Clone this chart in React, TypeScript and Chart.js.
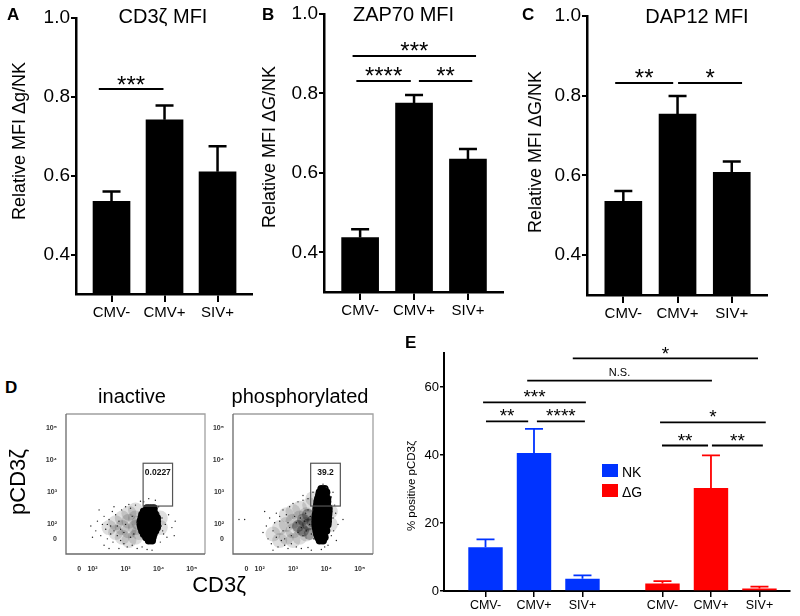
import React, { useEffect, useRef } from 'react';
import { Chart, registerables } from 'chart.js';

Chart.register(...registerables);

const FONT = '"Liberation Sans", Arial, Helvetica, sans-serif';
Chart.defaults.font.family = FONT;
Chart.defaults.color = '#000';

// ---------------- data: panels A-C ----------------
const mfiCategories = ['CMV-', 'CMV+', 'SIV+'];
const mfiYTicks = [0.4, 0.6, 0.8, 1.0];

const cd3zMean = [0.535, 0.742, 0.61];
const cd3zSem = [0.025, 0.036, 0.065];
const zap70Mean = [0.437, 0.776, 0.635];
const zap70Sem = [0.021, 0.02, 0.025];
const dap12Mean = [0.535, 0.754, 0.608];
const dap12Sem = [0.026, 0.045, 0.027];

const cd3zSig = [{ from: 0.76, to: 1.98, y: 0.82, label: '***' }];
const zap70Sig = [
  { from: 0.86, to: 3.15, y: 0.894, label: '***' },
  { from: 0.93, to: 1.94, y: 0.831, label: '****' },
  { from: 2.09, to: 3.08, y: 0.831, label: '**' },
];
const dap12Sig = [
  { from: 0.85, to: 1.92, y: 0.832, label: '**' },
  { from: 2.01, to: 3.19, y: 0.832, label: '*' },
];

// ---------------- data: panel E ----------------
const eCategories = ['CMV-', 'CMV+', 'SIV+'];
const eGroups = ['NK', 'ΔG'];
const nkMean = [12.9, 40.6, 3.6];
const nkSem = [2.3, 7.1, 1.0];
const dgMean = [2.2, 30.3, 0.7];
const dgSem = [0.7, 9.6, 0.6];
const eYTicks = [0, 20, 40, 60];
const eSig = [
  { from: 2.8, to: 6.62, y: 68.4, label: '*' },
  { from: 1.86, to: 5.67, y: 61.9, label: 'N.S.' },
  { from: 0.95, to: 3.07, y: 55.5, label: '***' },
  { from: 1.01, to: 1.88, y: 49.9, label: '**' },
  { from: 2.06, to: 3.05, y: 49.9, label: '****' },
  { from: 4.6, to: 6.78, y: 49.6, label: '*' },
  { from: 4.64, to: 5.59, y: 42.8, label: '**' },
  { from: 5.67, to: 6.72, y: 42.8, label: '**' },
];

// ---------------- data: panel D (flow plots, log decades) ----------------
const flowXTicks = [1.6, 2, 3, 4, 5];
const flowYTicks = [1.55, 2, 3, 4, 5];
const flowTickLabels = ['0', '10²', '10³', '10⁴', '10⁵'];
const gateX = [3.53, 4.42];
const gateY = [2.57, 3.9];
const gateLabels = ['0.0227', '39.2'];

const inactiveCore = [
  [3.65, 2.5], [3.75, 2.5], [3.85, 2.5],
  [3.55, 2.4], [3.65, 2.4], [3.75, 2.4], [3.85, 2.4],
  [3.5, 2.3], [3.6, 2.3], [3.7, 2.3], [3.8, 2.3], [3.9, 2.3],
  [3.48, 2.2], [3.58, 2.2], [3.68, 2.2], [3.78, 2.2], [3.88, 2.2], [3.95, 2.2],
  [3.45, 2.1], [3.55, 2.1], [3.65, 2.1], [3.75, 2.1], [3.85, 2.1], [3.95, 2.1],
  [3.45, 2.0], [3.55, 2.0], [3.65, 2.0], [3.75, 2.0], [3.85, 2.0], [3.95, 2.0],
  [3.47, 1.9], [3.57, 1.9], [3.67, 1.9], [3.77, 1.9], [3.87, 1.9], [3.95, 1.9],
  [3.5, 1.8], [3.6, 1.8], [3.7, 1.8], [3.8, 1.8], [3.9, 1.8],
  [3.55, 1.7], [3.65, 1.7], [3.75, 1.7], [3.85, 1.7],
  [3.62, 1.6], [3.72, 1.6], [3.82, 1.6],
  [3.7, 1.5], [3.8, 1.5],
];
const inactiveShoulder = [
  [2.5, 1.9], [2.7, 1.75], [2.7, 2.05], [2.9, 1.6], [2.9, 1.9], [2.9, 2.2],
  [3.1, 1.5], [3.1, 1.8], [3.1, 2.1], [3.1, 2.35], [3.3, 1.6], [3.3, 1.9],
  [3.3, 2.2], [3.3, 2.45], [3.4, 1.75], [3.4, 2.05], [4.05, 1.9], [4.05, 2.2],
];
const inactiveSparse = [
  [1.95, 1.95], [2.1, 1.8], [2.15, 2.1], [2.25, 1.65], [2.3, 2.0], [2.35, 2.25], [2.4, 1.85],
  [2.45, 1.55], [2.5, 2.15], [2.55, 1.7], [2.6, 2.4], [2.62, 1.45], [2.7, 2.3], [2.75, 1.95],
  [2.85, 1.5], [2.88, 2.45], [2.95, 1.4], [3.0, 2.55], [3.05, 1.3], [3.15, 2.5], [3.2, 1.35],
  [3.3, 2.6], [3.35, 1.25], [3.5, 1.3], [3.55, 2.7], [3.65, 1.22], [3.8, 1.2], [3.9, 2.75],
  [4.0, 2.55], [4.05, 1.45], [4.1, 2.2], [4.12, 1.8], [4.2, 2.0], [4.25, 1.6], [4.3, 2.3],
  [4.4, 1.9], [4.47, 1.65], [4.5, 2.1], [2.2, 2.45], [2.0, 1.6], [2.35, 1.35], [2.8, 1.25],
  [3.45, 2.72], [4.0, 2.35], [4.08, 1.95], [4.15, 1.7], [3.7, 2.8], [2.5, 1.25], [3.1, 2.62], [2.65, 2.55],
  [2.55, 1.95], [2.65, 1.8], [2.8, 2.1], [2.95, 1.75], [3.0, 2.0], [3.2, 2.25], [3.25, 1.7],
  [2.85, 1.85], [3.15, 1.6], [2.45, 2.0], [3.35, 2.05], [2.75, 1.65],
];

const phosCore = [
  [3.85, 3.1], [3.95, 3.1],
  [3.8, 3.0], [3.9, 3.0], [4.0, 3.0],
  [3.78, 2.9], [3.88, 2.9], [3.98, 2.9],
  [3.75, 2.8], [3.85, 2.8], [3.95, 2.8], [4.03, 2.8],
  [3.73, 2.7], [3.83, 2.7], [3.93, 2.7], [4.03, 2.7],
  [3.72, 2.6], [3.82, 2.6], [3.92, 2.6], [4.02, 2.6],
  [3.7, 2.5], [3.8, 2.5], [3.9, 2.5], [4.0, 2.5], [4.07, 2.5],
  [3.7, 2.4], [3.8, 2.4], [3.9, 2.4], [4.0, 2.4], [4.07, 2.4],
  [3.68, 2.3], [3.78, 2.3], [3.88, 2.3], [3.98, 2.3], [4.06, 2.3],
  [3.67, 2.2], [3.77, 2.2], [3.87, 2.2], [3.97, 2.2], [4.05, 2.2],
  [3.67, 2.1], [3.77, 2.1], [3.87, 2.1], [3.97, 2.1], [4.05, 2.1],
  [3.67, 2.0], [3.77, 2.0], [3.87, 2.0], [3.97, 2.0], [4.04, 2.0],
  [3.68, 1.9], [3.78, 1.9], [3.88, 1.9], [3.98, 1.9],
  [3.7, 1.8], [3.8, 1.8], [3.9, 1.8], [4.0, 1.8],
  [3.72, 1.7], [3.82, 1.7], [3.92, 1.7],
  [3.75, 1.6], [3.85, 1.6], [3.95, 1.6],
  [3.8, 1.5], [3.9, 1.5],
];
const phosBlob = [
  [3.15, 1.95], [3.3, 2.15], [3.3, 1.8], [3.45, 2.0], [3.45, 2.3], [3.5, 1.7], [3.58, 2.1],
];
const phosShoulder = [
  [2.4, 1.7], [2.6, 1.5], [2.6, 1.9], [2.8, 1.6], [2.8, 2.0], [2.8, 2.3], [3.0, 1.5],
  [3.0, 1.8], [3.0, 2.1], [3.0, 2.4], [3.2, 1.6], [3.2, 1.9], [3.2, 2.2], [3.2, 2.5],
  [3.4, 1.7], [3.4, 2.0], [3.4, 2.3], [3.5, 2.6], [3.6, 2.8], [4.12, 2.4], [4.12, 2.0],
];
const phosSparse = [
  [2.1, 1.75], [2.2, 1.95], [2.25, 1.55], [2.3, 2.2], [2.35, 1.4], [2.4, 1.8], [2.45, 2.05],
  [2.5, 1.6], [2.5, 2.35], [2.55, 1.3], [2.6, 2.1], [2.65, 1.5], [2.7, 2.45], [2.75, 1.35],
  [2.8, 2.3], [2.85, 1.25], [2.9, 2.55], [2.95, 1.4], [3.0, 2.65], [3.1, 1.3], [3.15, 2.7],
  [3.25, 1.25], [3.3, 2.75], [3.45, 1.28], [3.45, 2.8], [3.55, 1.2], [4.2, 2.2], [4.22, 1.8],
  [4.25, 2.6], [4.3, 1.5], [4.2, 3.0], [4.35, 2.0], [4.5, 2.15], [1.38, 2.15], [1.55, 2.15],
  [3.3, 2.9], [3.9, 3.25], [4.0, 3.15], [2.4, 1.2], [4.05, 1.35], [3.85, 1.22], [2.15, 2.4],
  [4.28, 2.35], [3.6, 3.0], [2.7, 1.8], [2.85, 2.05], [2.95, 1.65], [2.6, 2.25], [2.9, 1.9],
  [3.05, 2.25], [2.75, 1.55], [4.15, 2.85], [4.15, 1.65], [3.95, 1.3],
  [3.1, 2.05], [3.22, 2.2], [3.25, 1.9], [3.35, 2.1], [3.38, 2.35], [3.4, 1.8], [3.5, 2.0],
  [3.52, 2.25], [3.55, 1.7], [3.6, 2.45], [3.15, 1.75], [3.62, 1.55], [3.3, 1.65], [3.45, 2.45],
];

// ---------------- layout / style ----------------
const BLUE = '#0033ff';
const RED = '#ff0000';
const GROUP_OFFSET = 3.65;

type Rect = { left: number; top: number; width: number; height: number };
type Area = { left: number; top: number; right: number; bottom: number };

function fit(rect: Rect, area: Area) {
  return {
    padding: { left: 0, top: area.top - rect.top, right: rect.left + rect.width - area.right, bottom: 0 },
    yWidth: area.left - rect.left,
    xHeight: rect.top + rect.height - area.bottom,
  };
}

function errorBars(capWidth: number, lineWidth: number) {
  return {
    id: 'errorBars',
    afterDatasetsDraw(chart: any) {
      const { ctx } = chart;
      const ys = chart.scales.y;
      chart.data.datasets.forEach((ds: any, di: number) => {
        const errs = ds.errors;
        if (!errs) return;
        const meta = chart.getDatasetMeta(di);
        meta.data.forEach((el: any, i: number) => {
          const v = ds.data[i].y;
          const yTop = ys.getPixelForValue(v + errs[i]);
          ctx.save();
          ctx.strokeStyle = ds.backgroundColor;
          ctx.lineWidth = lineWidth;
          ctx.beginPath();
          ctx.moveTo(el.x, el.y);
          ctx.lineTo(el.x, yTop);
          ctx.moveTo(el.x - capWidth / 2, yTop);
          ctx.lineTo(el.x + capWidth / 2, yTop);
          ctx.stroke();
          ctx.restore();
        });
      });
    },
  };
}

function sigBrackets(items: any[], o: { lineWidth: number; starSize: number; textSize: number; starGap: number; textGap: number }) {
  return {
    id: 'sigBrackets',
    afterDraw(chart: any) {
      const { ctx } = chart;
      const xs = chart.scales.x;
      const ys = chart.scales.y;
      ctx.save();
      items.forEach((it) => {
        const x1 = xs.getPixelForValue(it.from);
        const x2 = xs.getPixelForValue(it.to);
        const y = ys.getPixelForValue(it.y);
        ctx.strokeStyle = '#000';
        ctx.lineWidth = o.lineWidth;
        ctx.beginPath();
        ctx.moveTo(x1, y);
        ctx.lineTo(x2, y);
        ctx.stroke();
        ctx.fillStyle = '#000';
        ctx.textAlign = 'center';
        ctx.textBaseline = 'alphabetic';
        const star = /^\*+$/.test(it.label);
        if (star) {
          ctx.font = `${o.starSize}px ${FONT}`;
          ctx.fillText(it.label, (x1 + x2) / 2, y - o.starGap + 0.585 * o.starSize);
        } else {
          ctx.font = `${o.textSize}px ${FONT}`;
          ctx.fillText(it.label, (x1 + x2) / 2, y - o.textGap);
        }
      });
      ctx.restore();
    },
  };
}

function flowFrame(gateLabel: string) {
  return {
    id: 'flowFrame',
    beforeDatasetsDraw(chart: any) {
      const { ctx, chartArea: a } = chart;
      ctx.save();
      ctx.lineWidth = 1.3;
      ctx.strokeStyle = '#a0a0a0';
      ctx.beginPath();
      ctx.moveTo(a.left, a.top);
      ctx.lineTo(a.right, a.top);
      ctx.lineTo(a.right, a.bottom);
      ctx.stroke();
      ctx.strokeStyle = '#6a6a6a';
      ctx.beginPath();
      ctx.moveTo(a.left, a.top);
      ctx.lineTo(a.left, a.bottom);
      ctx.lineTo(a.right, a.bottom);
      ctx.stroke();
      ctx.restore();
    },
    afterDatasetsDraw(chart: any) {
      const { ctx } = chart;
      const xs = chart.scales.x;
      const ys = chart.scales.y;
      const x1 = xs.getPixelForValue(gateX[0]);
      const x2 = xs.getPixelForValue(gateX[1]);
      const yTop = ys.getPixelForValue(gateY[1]);
      const yBot = ys.getPixelForValue(gateY[0]);
      ctx.save();
      ctx.strokeStyle = '#555';
      ctx.lineWidth = 1.2;
      ctx.strokeRect(x1, yTop, x2 - x1, yBot - yTop);
      ctx.fillStyle = '#111';
      ctx.font = `bold 8.5px ${FONT}`;
      ctx.textAlign = 'center';
      ctx.textBaseline = 'alphabetic';
      ctx.fillText(gateLabel, (x1 + x2) / 2, yTop + 12);
      ctx.restore();
    },
  };
}

function mfiConfig(mean: number[], sem: number[], sig: any[], rect: Rect, area: Area, starGap: number) {
  const f = fit(rect, area);
  return {
    type: 'bar',
    data: {
      datasets: [
        {
          data: mean.map((v, i) => ({ x: i + 1, y: v })),
          errors: sem,
          backgroundColor: '#000',
          borderWidth: 0,
          barThickness: 37,
        },
      ],
    },
    options: {
      responsive: false,
      animation: false,
      devicePixelRatio: 1,
      events: [],
      layout: { padding: f.padding },
      plugins: { legend: { display: false }, tooltip: { enabled: false }, title: { display: false } },
      scales: {
        x: {
          type: 'linear',
          min: 0.33,
          max: 3.65,
          offset: false,
          afterBuildTicks: (s: any) => {
            s.ticks = mfiCategories.map((_, i) => ({ value: i + 1 }));
          },
          afterFit: (s: any) => {
            s.height = f.xHeight;
          },
          ticks: {
            autoSkip: false,
            maxRotation: 0,
            padding: 2,
            font: { size: 15 },
            color: '#000',
            callback: (_v: any, i: number) => mfiCategories[i],
          },
          grid: { drawOnChartArea: false, offset: false, tickLength: 8, color: '#000', lineWidth: 2 },
          border: { color: '#000', width: 2.5 },
        },
        y: {
          min: 0.3,
          max: 1.0,
          afterBuildTicks: (s: any) => {
            s.ticks = mfiYTicks.map((v) => ({ value: v }));
          },
          afterFit: (s: any) => {
            s.width = f.yWidth;
          },
          ticks: {
            padding: 1,
            font: { size: 19 },
            color: '#000',
            callback: (v: any) => Number(v).toFixed(1),
          },
          grid: { drawOnChartArea: false, tickLength: 5, color: '#000', lineWidth: 2 },
          border: { color: '#000', width: 2.5 },
        },
      },
    },
    plugins: [
      errorBars(18, 2.5),
      sigBrackets(sig, { lineWidth: 2, starSize: 24, textSize: 11, starGap: starGap, textGap: 5 }),
    ],
  };
}

function eConfig(rect: Rect, area: Area) {
  const f = fit(rect, area);
  const xPositions = [
    ...eCategories.map((_, i) => i + 1),
    ...eCategories.map((_, i) => i + 1 + GROUP_OFFSET),
  ];
  const xLabels = [...eCategories, ...eCategories];
  return {
    type: 'bar',
    data: {
      datasets: [
        {
          label: eGroups[0],
          data: nkMean.map((v, i) => ({ x: i + 1, y: v })),
          errors: nkSem,
          backgroundColor: BLUE,
          grouped: false,
          categoryPercentage: 1,
          barPercentage: 0.71,
        },
        {
          label: eGroups[1],
          data: dgMean.map((v, i) => ({ x: i + 1 + GROUP_OFFSET, y: v })),
          errors: dgSem,
          backgroundColor: RED,
          grouped: false,
          categoryPercentage: 1,
          barPercentage: 0.71,
        },
      ],
    },
    options: {
      responsive: false,
      animation: false,
      devicePixelRatio: 1,
      events: [],
      layout: { padding: f.padding },
      plugins: { legend: { display: false }, tooltip: { enabled: false }, title: { display: false } },
      scales: {
        x: {
          type: 'linear',
          min: 0.144,
          max: 7.28,
          offset: false,
          afterBuildTicks: (s: any) => {
            s.ticks = xPositions.map((v) => ({ value: v }));
          },
          afterFit: (s: any) => {
            s.height = f.xHeight;
          },
          ticks: {
            autoSkip: false,
            maxRotation: 0,
            padding: 1,
            font: { size: 12.5 },
            color: '#000',
            callback: (_v: any, i: number) => xLabels[i],
          },
          grid: { drawOnChartArea: false, offset: false, tickLength: 6, color: '#000', lineWidth: 1.5 },
          border: { color: '#000', width: 2 },
        },
        y: {
          min: 0,
          max: 70,
          afterBuildTicks: (s: any) => {
            s.ticks = eYTicks.map((v) => ({ value: v }));
          },
          afterFit: (s: any) => {
            s.width = f.yWidth;
          },
          ticks: { padding: 1, font: { size: 13 }, color: '#000' },
          grid: { drawOnChartArea: false, tickLength: 4, color: '#000', lineWidth: 1.5 },
          border: { color: '#000', width: 2 },
        },
      },
    },
    plugins: [
      errorBars(18, 1.8),
      sigBrackets(eSig, { lineWidth: 1.8, starSize: 19, textSize: 11, starGap: 10, textGap: 5 }),
    ],
  };
}

function flowConfig(layers: { pts: number[][]; r: number; color: string }[], gateLabel: string, rect: Rect, area: Area) {
  const f = fit(rect, area);
  const tickFont = { size: 7, weight: 'bold' as const };
  return {
    type: 'scatter',
    data: {
      datasets: layers.map((l) => ({
        data: l.pts.map(([x, y]) => ({ x, y })),
        pointRadius: l.r,
        pointBackgroundColor: l.color,
        pointBorderWidth: 0,
      })),
    },
    options: {
      responsive: false,
      animation: false,
      devicePixelRatio: 1,
      events: [],
      layout: { padding: f.padding },
      plugins: { legend: { display: false }, tooltip: { enabled: false } },
      scales: {
        x: {
          type: 'linear',
          min: 1.2,
          max: 5.4,
          afterBuildTicks: (s: any) => {
            s.ticks = flowXTicks.map((v) => ({ value: v }));
          },
          afterFit: (s: any) => {
            s.height = f.xHeight;
          },
          ticks: { autoSkip: false, maxRotation: 0, padding: 3, font: tickFont, color: '#333', callback: (_v: any, i: number) => flowTickLabels[i] },
          grid: { display: false },
          border: { display: false },
        },
        y: {
          type: 'linear',
          min: 1.08,
          max: 5.43,
          afterBuildTicks: (s: any) => {
            s.ticks = flowYTicks.map((v) => ({ value: v }));
          },
          afterFit: (s: any) => {
            s.width = f.yWidth;
          },
          ticks: { autoSkip: false, padding: 1, font: tickFont, color: '#333', callback: (_v: any, i: number) => flowTickLabels[i] },
          grid: { display: false },
          border: { display: false },
        },
      },
    },
    plugins: [flowFrame(gateLabel)],
  };
}

// ---------------- components ----------------
function ChartBox({ rect, make }: { rect: Rect; make: () => any }) {
  const ref = useRef<HTMLCanvasElement>(null);
  useEffect(() => {
    const chart = new Chart(ref.current as HTMLCanvasElement, make());
    return () => chart.destroy();
  }, []);
  return (
    <canvas
      ref={ref}
      width={rect.width}
      height={rect.height}
      style={{ position: 'absolute', left: rect.left, top: rect.top, width: rect.width, height: rect.height }}
    />
  );
}

function Txt({ x, y, size, text, bold, align, rotate }: { x: number; y: number; size: number; text: string; bold?: boolean; align?: 'left' | 'center'; rotate?: boolean }) {
  const base: React.CSSProperties = {
    position: 'absolute',
    fontFamily: FONT,
    fontSize: size,
    lineHeight: 1,
    whiteSpace: 'nowrap',
    fontWeight: bold ? 700 : 400,
    color: '#000',
  };
  if (rotate) {
    return <div style={{ ...base, left: x, top: y, transform: 'translate(-50%, -50%) rotate(-90deg)' }}>{text}</div>;
  }
  return (
    <div style={{ ...base, left: x, top: y - 0.85 * size, transform: align === 'center' ? 'translateX(-50%)' : undefined }}>
      {text}
    </div>
  );
}

const rectA: Rect = { left: 0, top: 0, width: 260, height: 330 };
const areaA: Area = { left: 76, top: 18, right: 252, bottom: 294 };
const rectB: Rect = { left: 260, top: 0, width: 260, height: 330 };
const areaB: Area = { left: 324, top: 14, right: 503, bottom: 292 };
const rectC: Rect = { left: 522, top: 0, width: 278, height: 330 };
const areaC: Area = { left: 587, top: 16, right: 767, bottom: 295 };
const rectE: Rect = { left: 400, top: 320, width: 400, height: 296 };
const areaE: Area = { left: 444, top: 353, right: 790, bottom: 591 };
const rectD1: Rect = { left: 30, top: 405, width: 190, height: 200 };
const areaD1: Area = { left: 66, top: 414, right: 205, bottom: 554 };
const rectD2: Rect = { left: 205, top: 405, width: 185, height: 200 };
const areaD2: Area = { left: 233, top: 414, right: 373, bottom: 554 };

const SHADE = 'rgba(0,0,0,0.13)';

export default function App() {
  return (
    <div style={{ position: 'absolute', left: 0, top: 0, width: 800, height: 616, background: '#fff', overflow: 'hidden' }}>
      <ChartBox rect={rectA} make={() => mfiConfig(cd3zMean, cd3zSem, cd3zSig, rectA, areaA, 10)} />
      <ChartBox rect={rectB} make={() => mfiConfig(zap70Mean, zap70Sem, zap70Sig, rectB, areaB, 11)} />
      <ChartBox rect={rectC} make={() => mfiConfig(dap12Mean, dap12Sem, dap12Sig, rectC, areaC, 11)} />
      <ChartBox
        rect={rectD1}
        make={() =>
          flowConfig(
            [
              { pts: inactiveShoulder, r: 7.5, color: SHADE },
              { pts: inactiveSparse, r: 0.7, color: '#222' },
              { pts: inactiveCore, r: 4, color: '#000' },
            ],
            gateLabels[0],
            rectD1,
            areaD1,
          )
        }
      />
      <ChartBox
        rect={rectD2}
        make={() =>
          flowConfig(
            [
              { pts: phosShoulder, r: 7.5, color: SHADE },
              { pts: phosBlob, r: 6, color: 'rgba(0,0,0,0.3)' },
              { pts: phosSparse, r: 0.7, color: '#222' },
              { pts: phosCore, r: 4, color: '#000' },
            ],
            gateLabels[1],
            rectD2,
            areaD2,
          )
        }
      />
      <ChartBox rect={rectE} make={() => eConfig(rectE, areaE)} />

      {/* panel letters */}
      <Txt x={7} y={20} size={17} bold text="A" />
      <Txt x={262} y={20} size={17} bold text="B" />
      <Txt x={522} y={20} size={17} bold text="C" />
      <Txt x={5} y={393} size={17} bold text="D" />
      <Txt x={405} y={348} size={17} bold text="E" />

      {/* titles */}
      <Txt x={163} y={22.5} size={20} align="center" text="CD3ζ MFI" />
      <Txt x={403.5} y={21} size={20} align="center" text="ZAP70 MFI" />
      <Txt x={697} y={22.5} size={20} align="center" text="DAP12 MFI" />

      {/* y titles */}
      <Txt x={19} y={141} size={18} rotate text="Relative MFI Δg/NK" />
      <Txt x={269} y={147} size={18} rotate text="Relative MFI ΔG/NK" />
      <Txt x={535} y={152} size={18} rotate text="Relative MFI ΔG/NK" />

      {/* panel D texts */}
      <Txt x={132} y={403} size={20} align="center" text="inactive" />
      <Txt x={300} y={403} size={20} align="center" text="phosphorylated" />
      <Txt x={18} y={482} size={22} rotate text="pCD3ζ" />
      <Txt x={219} y={593} size={22} align="center" text="CD3ζ" />

      {/* panel E texts */}
      <Txt x={412} y={486} size={11.5} rotate text="% positive pCD3ζ" />
      <div style={{ position: 'absolute', left: 602, top: 464, width: 16, height: 13, background: BLUE }} />
      <Txt x={622} y={477} size={14} text={eGroups[0]} />
      <div style={{ position: 'absolute', left: 602, top: 484, width: 16, height: 13, background: RED }} />
      <Txt x={622} y={497} size={14} text={eGroups[1]} />
    </div>
  );
}
